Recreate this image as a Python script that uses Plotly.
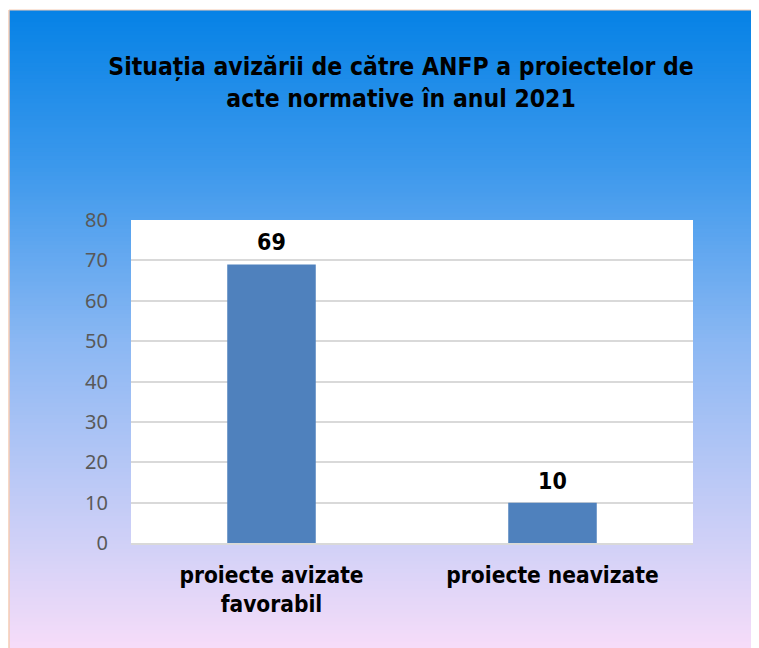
import plotly.graph_objects as go

categories = ["proiecte avizate<br>favorabil", "proiecte neavizate"]
values = [69, 10]
y_ticks = [0, 10, 20, 30, 40, 50, 60, 70, 80]
title_text = "Situația avizării de către ANFP a proiectelor de<br>acte normative în anul 2021"

W, H = 759, 648
L, R, T, B = 123, 74, 212, 113
PW, PH = W - L - R, H - T - B

def px2x(px):
    return (px - L) / PW

def py2y(py):
    return (H - B - py) / PH

stops = [(2, (6, 130, 230)), (157, (59, 152, 236)), (337, (140, 184, 243)),
         (532, (207, 208, 247)), (645, (248, 221, 249))]

def color_at(py):
    for (y0, c0), (y1, c1) in zip(stops[:-1], stops[1:]):
        if y0 <= py <= y1:
            t = (py - y0) / (y1 - y0)
            return "rgb(%d,%d,%d)" % tuple(round(a + (b - a) * t) for a, b in zip(c0, c1))
    return "rgb(%d,%d,%d)" % stops[-1][1]

shapes = []
N = 160
top, bot = 2, 650
step = (bot - top) / N
for i in range(N):
    y0 = top + i * step
    y1 = y0 + step + 0.8
    shapes.append(dict(type="rect", xref="paper", yref="paper", layer="below",
                       x0=px2x(1), x1=px2x(W + 2), y0=py2y(min(y1, bot)), y1=py2y(y0),
                       fillcolor=color_at(y0 + step / 2), line=dict(width=0)))
# border line (left & top)
shapes.append(dict(type="line", xref="paper", yref="paper", layer="below",
                   x0=px2x(1), x1=px2x(1), y0=py2y(bot), y1=py2y(2),
                   line=dict(color="#F5CBB3", width=1.5)))
shapes.append(dict(type="line", xref="paper", yref="paper", layer="below",
                   x0=px2x(1), x1=px2x(W + 2), y0=py2y(2), y1=py2y(2),
                   line=dict(color="#F5CBB3", width=1)))
# white plot area
shapes.append(dict(type="rect", xref="paper", yref="paper", layer="below",
                   x0=0, x1=1, y0=0, y1=1, fillcolor="white", line=dict(width=0)))

fig = go.Figure(go.Bar(x=categories, y=values, marker_color="#4F81BD",
                       marker_line_width=0, hoverinfo="skip"))

FONT = "DejaVu Sans Condensed, DejaVu Sans"
annotations = []
for c, v in zip(categories, values):
    annotations.append(dict(x=c, y=v, xref="x", yref="y", text="<b>%d</b>" % v,
                            showarrow=False, yanchor="bottom", yshift=7,
                            font=dict(family=FONT, size=23, color="black")))

fig.update_layout(
    width=W, height=H,
    margin=dict(l=L, r=R, t=T, b=B, pad=0),
    paper_bgcolor="white", plot_bgcolor="rgba(0,0,0,0)",
    shapes=shapes, annotations=annotations,
    bargap=0.685, showlegend=False,
    title=dict(text="<b>" + title_text + "</b>", xref="container", yref="container",
               x=393 / W, xanchor="center", y=1 - 67 / H, yanchor="middle",
               font=dict(family=FONT, size=24.5, color="black")),
    xaxis=dict(showgrid=False, showline=True, linecolor="#D9D9D9", linewidth=2,
               tickfont=dict(family=FONT, size=22.5, color="black"),
               ticklabelstandoff=11, tickprefix="<b>", ticksuffix="</b>"),
    yaxis=dict(range=[0, 80], tickvals=y_ticks, showgrid=True, gridcolor="#D9D9D9",
               gridwidth=2, zeroline=False, showline=False,
               tickfont=dict(family="Noto Sans", size=20, color="#595959"),
               ticklabelstandoff=22),
)
fig.write_html("out.html")
